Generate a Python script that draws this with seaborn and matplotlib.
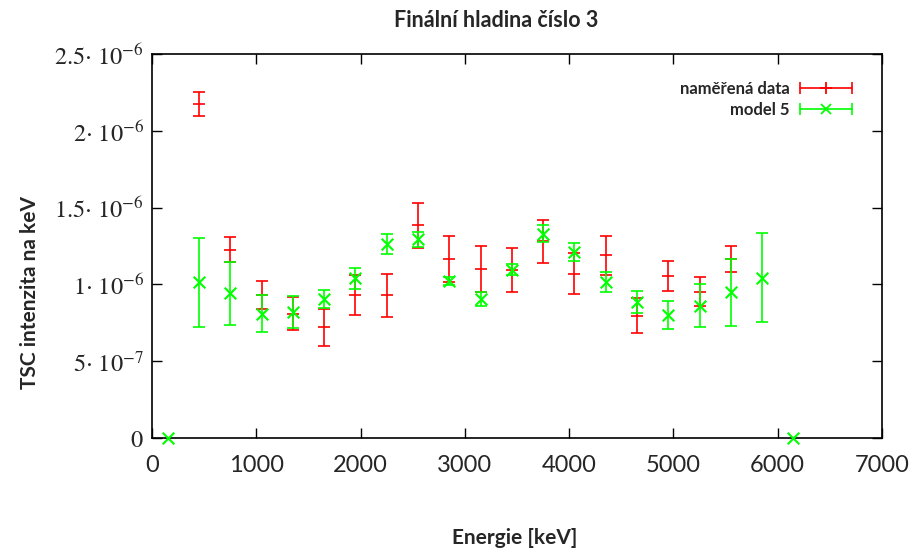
import numpy as np
import matplotlib
matplotlib.use('Agg')
import matplotlib.pyplot as plt
import seaborn as sns
from matplotlib.lines import Line2D
from matplotlib.legend_handler import HandlerBase

# values, intensity in units of 1e-6 per keV
scale = 1e-6
data_energy = [450, 750, 1050, 1350, 1650, 1950, 2250, 2550, 2850, 3150,
               3450, 3750, 4050, 4350, 4650, 4950, 5250, 5550]
data_value = [2.175, 1.227, 0.93, 0.81, 0.72, 0.93, 0.93, 1.385, 1.165, 1.10,
              1.095, 1.28, 1.07, 1.19, 0.795, 1.055, 0.953, 1.166]
data_err = [0.08, 0.08, 0.09, 0.105, 0.12, 0.13, 0.14, 0.145, 0.147, 0.147,
            0.145, 0.14, 0.135, 0.128, 0.114, 0.10, 0.093, 0.085]

model_energy = [150, 450, 750, 1050, 1350, 1650, 1950, 2250, 2550, 2850, 3150,
                3450, 3750, 4050, 4350, 4650, 4950, 5250, 5550, 5850, 6150]
model_value = [0.0, 1.014, 0.942, 0.81, 0.82, 0.905, 1.04, 1.263, 1.293, 1.022, 0.905,
               1.095, 1.33, 1.213, 1.015, 0.887, 0.80, 0.86, 0.948, 1.045, 0.0]
model_err = [0.0, 0.29, 0.206, 0.12, 0.105, 0.06, 0.07, 0.068, 0.047, 0.027, 0.047,
             0.035, 0.054, 0.059, 0.067, 0.07, 0.092, 0.14, 0.217, 0.29, 0.0]

x_ticks = [0, 1000, 2000, 3000, 4000, 5000, 6000, 7000]
y_ticks = [0, 0.5, 1.0, 1.5, 2.0, 2.5]
y_tick_labels = [r'$0$', r'$5{\cdot}\ 10^{-7}$', r'$1{\cdot}\ 10^{-6}$',
                 r'$1.5{\cdot}\ 10^{-6}$', r'$2{\cdot}\ 10^{-6}$', r'$2.5{\cdot}\ 10^{-6}$']

RED = '#ff0000'
GREEN = '#00ff00'

sns.set_style('white')
plt.rcParams['font.family'] = ['Lato', 'DejaVu Sans']
plt.rcParams['mathtext.fontset'] = 'stix'


# gnuplot style key: |--marker--|
class ErrKeyHandler(HandlerBase):
    def create_artists(self, legend, orig_handle, xdescent, ydescent,
                       width, height, fontsize, trans):
        y = height / 2 - ydescent
        x0, x1 = -xdescent, width - xdescent
        c = orig_handle.get_color()
        line = Line2D([x0, x1], [y, y], color=c, lw=1.2)
        caps = Line2D([x0, x1], [y, y], color=c, ls='none', marker='|',
                      markersize=8, markeredgewidth=1.2)
        mid = Line2D([(x0 + x1) / 2], [y], color=c, ls='none',
                     marker=orig_handle.get_marker(), markersize=orig_handle.get_markersize(),
                     markeredgewidth=1.3)
        for a in (line, caps, mid):
            a.set_transform(trans)
        return [line, caps, mid]


fig = plt.figure(figsize=(9.12, 5.5), dpi=100)
ax = fig.add_axes([0.1667, 0.2036, 0.8004, 0.6982])

d_e = np.array(data_energy)
d_v = np.array(data_value) * scale
d_s = np.array(data_err) * scale
m_e = np.array(model_energy)
m_v = np.array(model_value) * scale
m_s = np.array(model_err) * scale

# measured data
ax.errorbar(d_e, d_v, yerr=d_s, fmt='none', ecolor=RED, elinewidth=1.2,
            capsize=4.3, capthick=1.2, zorder=2)
sns.scatterplot(x=d_e, y=d_v, marker='_', s=74, color=RED, linewidth=1.2,
                ax=ax, zorder=3, legend=False)

# model 5
has_err = m_s > 0
ax.errorbar(m_e[has_err], m_v[has_err], yerr=m_s[has_err], fmt='none', ecolor=GREEN,
            elinewidth=1.2, capsize=4.6, capthick=1.2, zorder=4)
sns.scatterplot(x=m_e, y=m_v, marker='x', s=70, color=GREEN, linewidth=1.5,
                ax=ax, zorder=5, legend=False, clip_on=False)

ax.set_xlim(0, 7000)
ax.set_ylim(0, 2.5 * scale)
ax.set_xticks(x_ticks)
ax.set_xticklabels([str(t) for t in x_ticks])
ax.set_yticks([t * scale for t in y_ticks])
ax.set_yticklabels(y_tick_labels)

for side in ['top', 'right', 'bottom', 'left']:
    ax.spines[side].set_color('black')
    ax.spines[side].set_linewidth(1.2)
ax.tick_params(axis='both', direction='in', length=7, width=1.0, color='black',
               top=True, right=True, bottom=True, left=True)
ax.tick_params(axis='x', labelsize=17, pad=12)
ax.tick_params(axis='y', labelsize=17.5, pad=6)

ax.set_xlabel('Energie [keV]', fontsize=15, fontweight='bold')
ax.xaxis.set_label_coords(0.497, -0.235)
ax.set_ylabel('TSC intenzita na keV', fontsize=15, fontweight='bold')
ax.yaxis.set_label_coords(-0.153, 0.38)
fig.text(0.544, 0.962, 'Finální hladina číslo 3', ha='center', va='center',
         fontsize=15.5, fontweight='bold')

h_data = Line2D([], [], color=RED, marker='+', markersize=8)
h_model = Line2D([], [], color=GREEN, marker='x', markersize=7)
ax.legend([h_data, h_model], ['naměřená data', 'model 5'],
          handler_map={Line2D: ErrKeyHandler()}, loc='upper right',
          bbox_to_anchor=(0.959, 0.93), frameon=False, markerfirst=False,
          prop={'size': 12, 'weight': 'bold'}, handlelength=3.1,
          handletextpad=0.66, labelspacing=0.32, borderaxespad=0,
          borderpad=0)

fig.savefig('out.png', dpi=100)
